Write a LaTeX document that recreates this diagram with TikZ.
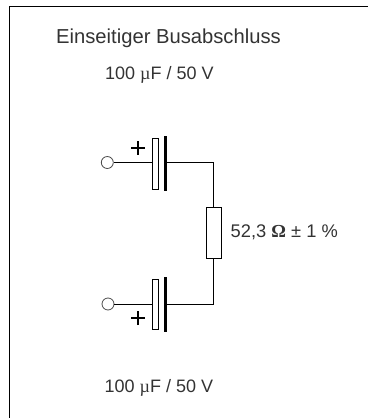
\documentclass[tikz,border=0pt]{standalone}
\usepackage{fontspec}
\setmainfont{Liberation Sans}
\newfontfamily\symf{Liberation Serif}
\definecolor{txt}{gray}{0.2}
\tikzset{
  x=1bp,y=-1bp,
  wire/.style={line width=0.9bp,black},
  term/.style={circle,draw=black!70,line width=0.8bp,minimum size=12bp,inner sep=0pt},
  foil/.style={rectangle,draw=black,line width=0.9bp,minimum width=6.5bp,minimum height=50.5bp,inner sep=0pt},
  plate/.style={rectangle,fill=black,minimum width=3.2bp,minimum height=55bp,inner sep=0pt},
  res/.style={rectangle,draw=black,line width=0.9bp,minimum width=14.3bp,minimum height=51bp,inner sep=0pt},
  lab/.style={anchor=base west,inner sep=0pt,text=txt,font=\fontsize{18bp}{20bp}\selectfont},
  pluss/.style={inner sep=0pt,minimum size=0pt},
}
\begin{document}
\begin{tikzpicture}
\useasboundingbox (0,0) rectangle (368,418);
\coordinate (ftl) at (9.5,6.5);
\coordinate (ftr) at (368,6.5);
\coordinate (fbl) at (9.5,418);
\draw[line width=1bp] (ftr) -- (ftl) -- (fbl);
\node[lab,font=\fontsize{20.2bp}{22bp}\selectfont] (title) at (56,43) {Einseitiger Busabschluss};
\node[lab] (v1) at (105,79.3) {100 {\symf µ}F / 50 V};
\node[lab] (v2) at (104.5,392) {100 {\symf µ}F / 50 V};
\node[term] (t1) at (107.3,162.5) {};
\node[term] (t2) at (108,304) {};
\node[foil] (f1) at (155.6,163.7) {};
\node[foil] (f2) at (155.5,304.2) {};
\node[plate] (p1) at (165.5,163.3) {};
\node[plate] (p2) at (165.5,304.2) {};
\node[res] (r) at (213.8,232.8) {};
\node[lab,font=\fontsize{18.3bp}{20bp}\selectfont] (rl) at (230.5,237.8) {52,3 {\symf\bfseries Ω} ± 1 \%};
\node[pluss] (c1) at (138,147.7) {};
\node[pluss] (c2) at (138,318) {};
\draw[line width=1.8bp] ([xshift=-7bp]c1.center) -- ([xshift=7bp]c1.center) ([yshift=-7bp]c1.center) -- ([yshift=7bp]c1.center);
\draw[line width=1.8bp] ([xshift=-7bp]c2.center) -- ([xshift=7bp]c2.center) ([yshift=-7bp]c2.center) -- ([yshift=7bp]c2.center);
\draw[wire] (t1.east) -- (t1.east -| f1.west);
\draw[wire] (t2.east) -- (t2.east -| f2.west);
\draw[wire] (p1.east |- t1.east) -| (r.north);
\draw[wire] (p2.east |- t2.east) -| (r.south);
\end{tikzpicture}
\end{document}
